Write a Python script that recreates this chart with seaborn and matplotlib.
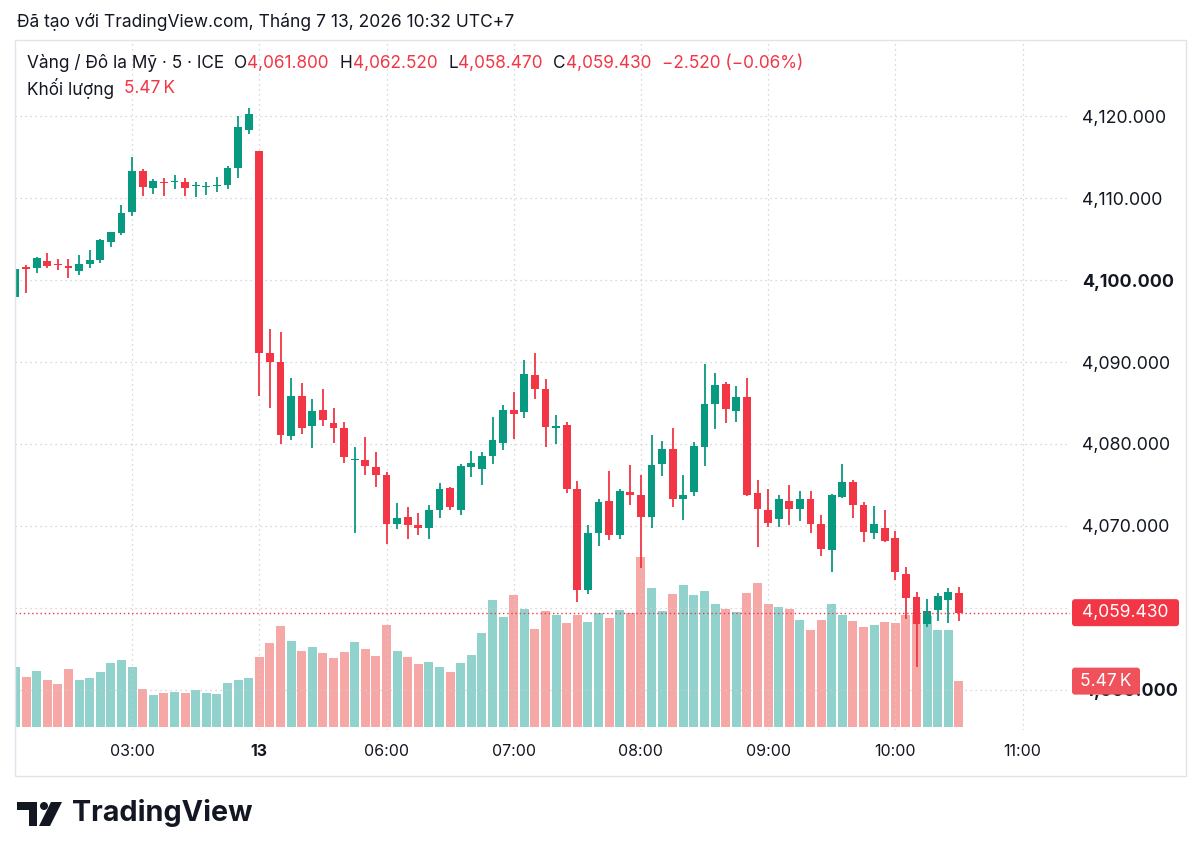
import numpy as np
import pandas as pd
import matplotlib
matplotlib.use("Agg")
import matplotlib.pyplot as plt
import seaborn as sns
from matplotlib.patches import Rectangle, FancyBboxPatch, Circle, Polygon

# ---------------- data (5-minute candles, Gold / USD, ICE) ----------------
opens = [4097.9, 4101.6, 4101.5, 4102.3, 4102.0, 4101.7, 4101.1, 4102.0, 4102.4, 4104.6,
         4105.7, 4108.3, 4113.3, 4111.2, 4111.9, 4111.9, 4112.0, 4111.5, 4111.3, 4111.5,
         4111.6, 4113.7, 4118.3, 4115.7, 4091.1, 4090.0, 4081.0, 4085.8, 4082.2, 4084.1,
         4082.5, 4082.0, 4078.1, 4078.1, 4077.2, 4076.2, 4070.2, 4071.1, 4070.1, 4069.7,
         4072.0, 4074.6, 4072.0, 4077.2, 4077.0, 4078.5, 4080.1, 4084.2, 4083.9, 4088.4,
         4086.7, 4082.0, 4082.3, 4074.5, 4062.2, 4069.1, 4073.0, 4068.9, 4074.2, 4073.8,
         4071.1, 4077.5, 4079.4, 4073.3, 4074.1, 4079.6, 4084.9, 4087.3, 4084.0, 4085.7,
         4074.0, 4072.0, 4070.8, 4073.1, 4072.1, 4073.3, 4070.2, 4067.1, 4073.5, 4075.4,
         4072.6, 4069.1, 4069.8, 4068.5, 4064.1, 4061.4, 4058.0, 4059.7, 4061.0, 4061.8]
highs = [4102.4, 4101.8, 4102.8, 4103.3, 4102.6, 4102.6, 4103.0, 4103.6, 4105.0, 4105.9,
         4109.1, 4115.0, 4113.5, 4112.3, 4112.5, 4112.8, 4112.4, 4111.9, 4112.0, 4112.6,
         4113.9, 4120.0, 4121.0, 4115.7, 4094.0, 4093.7, 4088.1, 4087.4, 4085.5, 4086.7,
         4084.4, 4082.7, 4079.6, 4080.9, 4079.0, 4076.6, 4072.8, 4072.3, 4071.6, 4072.5,
         4075.2, 4074.8, 4077.5, 4079.2, 4079.0, 4083.3, 4084.8, 4086.4, 4090.3, 4091.1,
         4087.9, 4083.5, 4082.7, 4075.5, 4070.1, 4073.3, 4076.7, 4074.5, 4077.4, 4076.2,
         4081.1, 4080.4, 4082.0, 4076.2, 4080.2, 4089.8, 4088.6, 4087.6, 4087.1, 4088.1,
         4075.6, 4074.5, 4073.8, 4075.0, 4074.3, 4074.3, 4071.3, 4073.9, 4077.5, 4075.6,
         4072.9, 4072.4, 4072.0, 4069.4, 4065.0, 4062.0, 4061.1, 4061.8, 4062.4, 4062.52]
lows = [4097.9, 4098.4, 4100.9, 4101.5, 4101.2, 4100.2, 4100.6, 4101.5, 4102.1, 4104.0,
        4105.5, 4107.8, 4110.3, 4110.5, 4110.2, 4111.1, 4110.3, 4110.1, 4110.4, 4110.7,
        4111.1, 4112.5, 4117.8, 4085.8, 4084.4, 4080.0, 4080.5, 4081.2, 4079.5, 4082.2,
        4080.1, 4077.7, 4069.1, 4076.2, 4074.8, 4067.8, 4069.6, 4068.4, 4068.9, 4068.4,
        4071.0, 4072.0, 4071.3, 4076.0, 4075.0, 4077.6, 4079.3, 4080.6, 4083.2, 4085.5,
        4079.6, 4080.0, 4074.0, 4060.7, 4061.7, 4067.6, 4068.3, 4068.4, 4072.5, 4064.9,
        4069.8, 4076.1, 4072.3, 4070.7, 4073.7, 4077.3, 4081.8, 4082.5, 4082.7, 4073.7,
        4067.4, 4069.9, 4069.9, 4070.1, 4070.6, 4069.1, 4066.3, 4064.4, 4073.4, 4071.0,
        4068.1, 4068.4, 4068.1, 4063.4, 4058.7, 4052.8, 4057.7, 4058.4, 4058.2, 4058.47]
closes = [4101.3, 4101.4, 4102.7, 4101.7, 4101.8, 4101.5, 4102.0, 4102.5, 4104.9, 4105.8,
          4108.2, 4113.3, 4111.3, 4112.1, 4111.8, 4112.0, 4111.2, 4111.6, 4111.4, 4111.6,
          4113.6, 4118.6, 4120.3, 4091.1, 4090.0, 4081.1, 4085.8, 4082.0, 4084.0, 4082.9,
          4082.0, 4078.4, 4078.2, 4077.3, 4076.2, 4070.3, 4071.0, 4070.1, 4069.7, 4072.0,
          4074.5, 4072.3, 4077.3, 4077.7, 4078.5, 4080.5, 4084.2, 4083.6, 4088.5, 4086.7,
          4082.1, 4082.2, 4074.5, 4062.2, 4069.2, 4072.9, 4068.9, 4074.3, 4073.8, 4071.1,
          4077.4, 4079.4, 4073.3, 4073.8, 4079.7, 4084.9, 4087.2, 4084.3, 4085.7, 4073.8,
          4072.1, 4070.4, 4073.3, 4072.1, 4073.3, 4070.2, 4067.2, 4073.8, 4075.4, 4072.6,
          4069.3, 4070.2, 4068.2, 4064.4, 4061.2, 4058.0, 4059.6, 4061.5, 4061.95, 4059.43]
volumes_k = [7.2, 6.0, 6.7, 5.6, 5.1, 6.9, 5.6, 5.8, 6.5, 7.6, 8.0, 7.2, 4.5, 3.8, 4.0, 4.2,
             4.0, 4.4, 4.1, 3.9, 5.2, 5.6, 5.8, 8.3, 10.0, 12.0, 10.3, 9.0, 9.5, 8.8, 8.2,
             8.9, 10.1, 9.3, 8.5, 12.2, 9.1, 8.4, 7.5, 7.8, 7.1, 6.5, 7.6, 8.6, 11.2, 15.1,
             13.1, 15.7, 14.0, 11.7, 13.8, 13.3, 12.4, 13.3, 12.5, 13.6, 13.0, 13.9, 13.6, 20.3, 16.5,
             13.8, 15.8, 16.9, 15.7, 16.2, 14.7, 14.1, 13.7, 16.0, 17.1, 14.7, 14.3, 14.0, 12.8, 11.5,
             12.8, 14.7, 13.3, 12.6, 11.9, 12.2, 12.5, 12.4, 13.4, 13.3, 13.2, 11.6, 11.6, 5.47]

time_tick_pos = [11, 23, 35, 47, 59, 71, 83, 95]
time_tick_labels = ["03:00", "13", "06:00", "07:00", "08:00", "09:00", "10:00", "11:00"]
price_ticks = [4050, 4060, 4070, 4080, 4090, 4100, 4110, 4120]
bold_price_ticks = [4050, 4100]
hidden_price_labels = [4060]   # covered by the last-price marker in the original

title_text = "Đã tạo với TradingView.com, Tháng 7 13, 2026 10:32 UTC+7"
symbol_text = "Vàng / Đô la Mỹ · 5 · ICE"
volume_title = "Khối lượng"

# ---------------- style ----------------
UP = "#089981"
DN = "#F23645"
VOL_UP = "#92D2CC"
VOL_DN = "#F6A8A6"
TXT = "#131722"
GRID = "#C9CCD3"

sns.set_theme(style="white")
plt.rcParams['font.family'] = ['Inter', 'DejaVu Sans']

W, H = 1200, 857
fig = plt.figure(figsize=(W / 100, H / 100), dpi=100)
fig.patch.set_facecolor("white")


def fx(px):
    return px / W


def fy(py):
    return 1 - py / H


pane = [fx(15), fy(730), fx(1070) - fx(15), fy(40) - fy(730)]
axv = fig.add_axes(pane)
ax = fig.add_axes(pane)
axv.set_zorder(1)
ax.set_zorder(2)
ax.patch.set_visible(False)

n = len(opens)
df = pd.DataFrame({"i": np.arange(n), "open": opens, "high": highs, "low": lows,
                   "close": closes, "volume": volumes_k})
df["dir"] = np.where(df["close"] >= df["open"], "up", "down")

xlim = (-0.047, 99.48)

# volume bars
sns.barplot(data=df, x="i", y="volume", hue="dir", palette={"up": VOL_UP, "down": VOL_DN},
            native_scale=True, dodge=False, width=0.86, saturation=1, legend=False,
            errorbar=None, linewidth=0, ax=axv)
axv.set_xlim(*xlim)
axv.set_ylim(-0.35, 81.8)
axv.set_xticks([])
axv.set_yticks([])
axv.set_xlabel("")
axv.set_ylabel("")
for s in axv.spines.values():
    s.set_visible(False)
axv.patch.set_facecolor("white")

# candles
cols = np.where(df["dir"] == "up", UP, DN)
ax.vlines(df["i"], df["low"], df["high"], colors=cols, linewidth=1.3, zorder=3)
body_bottom = np.minimum(df["open"], df["close"])
body_h = np.maximum(np.abs(df["close"] - df["open"]), 0.13)
ax.bar(df["i"], body_h, bottom=body_bottom, width=0.74, color=cols, linewidth=0, zorder=4)

ax.set_xlim(*xlim)
ax.set_ylim(4045.12, 4129.27)

# grid
for p in price_ticks:
    ax.axhline(p, color=GRID, lw=0.9, ls=(0, (1, 3)), zorder=0)
for t in time_tick_pos:
    ax.axvline(t, color=GRID, lw=0.9, ls=(0, (1, 3)), zorder=0)

# last price line
last_price = closes[-1]
ax.axhline(last_price, color=DN, lw=1.0, ls=(0, (1, 2)), zorder=5)

# axes ticks
ax.yaxis.tick_right()
ax.set_yticks(price_ticks)
ax.set_yticklabels(["" if p in hidden_price_labels else f"{p:,.3f}" for p in price_ticks])
for lab, p in zip(ax.get_yticklabels(), price_ticks):
    if p in bold_price_ticks:
        lab.set_fontweight("bold")
ax.tick_params(axis="y", length=0, pad=8.5, labelsize=12.8, labelcolor=TXT)
ax.set_xticks(time_tick_pos)
ax.set_xticklabels(time_tick_labels)
for lab, t in zip(ax.get_xticklabels(), time_tick_labels):
    if t == "13":
        lab.set_fontweight("bold")
ax.tick_params(axis="x", length=0, pad=10, labelsize=11.5, labelcolor=TXT)
for s in ax.spines.values():
    s.set_visible(False)

# ---------------- overlay in pixel coordinates ----------------
ov = fig.add_axes([0, 0, 1, 1])
ov.set_zorder(10)
ov.patch.set_visible(False)
ov.set_xlim(0, W)
ov.set_ylim(H, 0)
ov.axis("off")

# outer frame
ov.add_patch(Rectangle((15, 40), 1171, 736, fill=False, edgecolor="#E0E3EB", lw=1.0))

ov.text(17, 22, title_text, fontsize=12.55, color=TXT, va="center", ha="left")

renderer = fig.canvas.get_renderer()


def chain(parts, x0, y, size):
    x = x0
    for txt, color, gap in parts:
        t = ov.text(x, y, txt, fontsize=size, color=color, va="center", ha="left")
        bb = t.get_window_extent(renderer)
        x += bb.width + gap


chg = closes[-1] - closes[-2]
pct = chg / closes[-2] * 100
sign = "−" if chg < 0 else "+"
chain([(symbol_text, TXT, 10),
       ("O", TXT, 0), (f"{opens[-1]:,.3f}", DN, 11),
       ("H", TXT, 0), (f"{highs[-1]:,.3f}", DN, 11),
       ("L", TXT, 0), (f"{lows[-1]:,.3f}", DN, 11),
       ("C", TXT, 0), (f"{closes[-1]:,.3f}", DN, 11),
       (f"{sign}{abs(chg):.3f} ({sign}{abs(pct):.2f}%)", DN, 0)], 27, 63, 12.4)
vol_str = f"{volumes_k[-1]:.2f}\u2009K"
chain([(volume_title, TXT, 10), (vol_str, DN, 0)], 27, 88, 12.4)

# price / volume labels on the right
fig.canvas.draw()
y_price = H - ax.transData.transform((0, last_price))[1]
y_vol = H - axv.transData.transform((0, volumes_k[-1]))[1]
ov.add_patch(FancyBboxPatch((1072, y_price - 13.5), 107, 27,
                            boxstyle="round,pad=0,rounding_size=3", facecolor=DN, edgecolor="none"))
ov.text(1125.5, y_price, f"{last_price:,.3f}", fontsize=12.5, color="white", va="center", ha="center")
ov.add_patch(FancyBboxPatch((1072, y_vol - 13.5), 68, 27,
                            boxstyle="round,pad=0,rounding_size=3", facecolor="#F0525C", edgecolor="none"))
ov.text(1106, y_vol, vol_str, fontsize=12.5, color="white", va="center", ha="center")

# TradingView logo
ov.add_patch(Polygon([(17, 802), (37, 802), (37, 826), (29, 826), (29, 810), (17, 810)],
                     closed=True, facecolor=TXT, edgecolor="none"))
ov.add_patch(Circle((44, 806), 4, facecolor=TXT, edgecolor="none"))
ov.add_patch(Polygon([(51, 802), (62, 802), (50, 826), (39, 826)],
                     closed=True, facecolor=TXT, edgecolor="none"))
ov.text(72, 813, "TradingView", fontsize=20.7, fontweight="bold", color=TXT, va="center", ha="left")

fig.savefig("out.png", dpi=100, facecolor="white")
